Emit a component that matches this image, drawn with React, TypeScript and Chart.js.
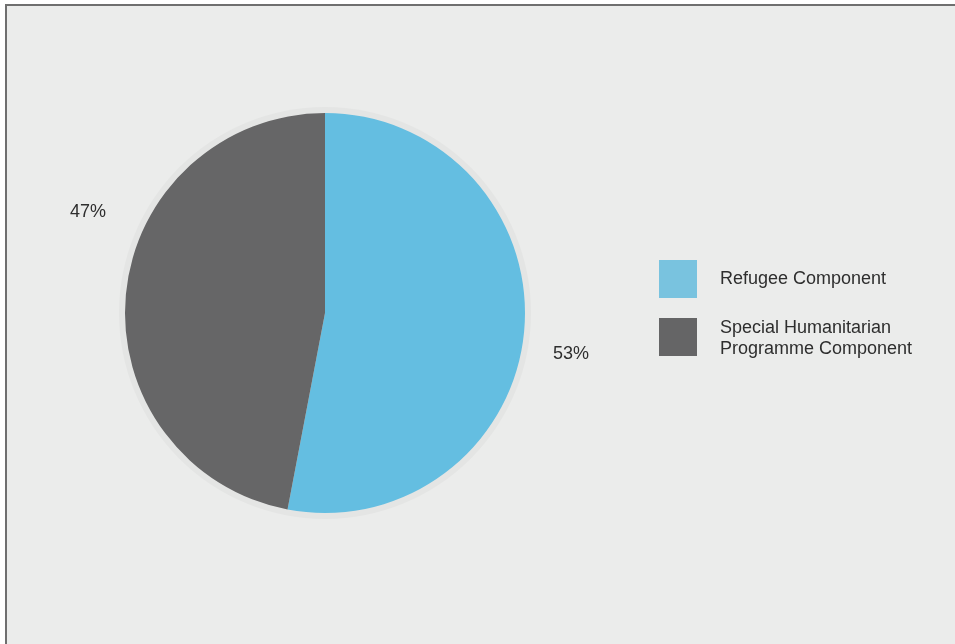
import { useEffect, useRef } from "react";
import { Chart, registerables } from "chart.js";

Chart.register(...registerables);

// ---- data ----
const categories = ["Refugee Component", "Special Humanitarian Programme Component"];
const legendLines = [["Refugee Component"], ["Special Humanitarian", "Programme Component"]];
const shares = [53, 47];
const sliceColors = ["#64bee1", "#666667"];
const legendColors = ["#79c3df", "#656566"];

const FONT = '"Liberation Sans", Arial, Helvetica, sans-serif';
const TEXT_COLOR = "#2e2e2e";

const haloPlugin = {
  id: "halo",
  beforeDatasetsDraw(chart: any) {
    const meta = chart.getDatasetMeta(0);
    const arc = meta.data[0];
    if (!arc) return;
    const { x, y, outerRadius } = arc.getProps(["x", "y", "outerRadius"], true);
    const ctx = chart.ctx;
    ctx.save();
    ctx.beginPath();
    ctx.arc(x, y, outerRadius + 6, 0, Math.PI * 2);
    ctx.fillStyle = "#e4e5e4";
    ctx.fill();
    ctx.restore();
  },
};

const pctLabelPlugin = {
  id: "pctLabels",
  afterDatasetsDraw(chart: any, _args: any, opts: any) {
    const meta = chart.getDatasetMeta(0);
    const data = chart.data.datasets[0].data as number[];
    const total = data.reduce((a, b) => a + b, 0);
    const ctx = chart.ctx;
    ctx.save();
    ctx.font = `18px ${FONT}`;
    ctx.fillStyle = TEXT_COLOR;
    ctx.textAlign = "center";
    ctx.textBaseline = "middle";
    meta.data.forEach((arc: any, i: number) => {
      const { x, y, startAngle, endAngle, outerRadius } = arc.getProps(
        ["x", "y", "startAngle", "endAngle", "outerRadius"],
        true
      );
      const mid = (startAngle + endAngle) / 2 + (opts.angleShift[i] * Math.PI) / 180;
      const d = outerRadius * opts.distance[i];
      const pct = Math.round((data[i] / total) * 100);
      ctx.fillText(`${pct}%`, x + Math.cos(mid) * d, y + Math.sin(mid) * d);
    });
    ctx.restore();
  },
};

const legendPlugin = {
  id: "customLegend",
  afterDraw(chart: any, _args: any, opts: any) {
    const ctx = chart.ctx;
    ctx.save();
    ctx.font = `18px ${FONT}`;
    ctx.textBaseline = "middle";
    ctx.textAlign = "left";
    categories.forEach((_c, i) => {
      const top = opts.top + i * opts.step;
      ctx.fillStyle = legendColors[i];
      ctx.fillRect(opts.left, top, opts.box, opts.box);
      ctx.fillStyle = TEXT_COLOR;
      const lines = legendLines[i];
      lines.forEach((ln, j) => {
        const yy =
          lines.length === 1
            ? top + opts.box / 2
            : top + opts.firstLineOffset + j * opts.lineHeight;
        ctx.fillText(ln, opts.textX, yy);
      });
    });
    ctx.restore();
  },
};

export default function App() {
  const ref = useRef<HTMLCanvasElement | null>(null);

  useEffect(() => {
    if (!ref.current) return;
    const chart = new Chart(ref.current, {
      type: "pie",
      data: {
        labels: categories,
        datasets: [
          {
            data: shares,
            backgroundColor: sliceColors,
            borderWidth: 0,
          },
        ],
      },
      options: {
        responsive: false,
        animation: false,
        devicePixelRatio: 1,
        layout: { padding: { left: 125, right: 430, top: 113, bottom: 131 } },
        plugins: {
          legend: { display: false },
          tooltip: { enabled: false },
          pctLabels: { angleShift: [4, 17.7], distance: [1.247, 1.288] },
          customLegend: {
            left: 659,
            top: 260,
            step: 58,
            box: 38,
            textX: 720,
            firstLineOffset: 10,
            lineHeight: 21,
          },
        } as any,
      },
      plugins: [haloPlugin, pctLabelPlugin, legendPlugin],
    });
    return () => chart.destroy();
  }, []);

  return (
    <div
      style={{
        position: "fixed",
        left: 0,
        top: 0,
        width: 955,
        height: 644,
        background: "#ffffff",
        overflow: "hidden",
      }}
    >
      <div
        style={{
          position: "absolute",
          left: 5,
          top: 4,
          width: 955,
          height: 644,
          background: "#ebeceb",
          borderTop: "2px solid #6f6f6f",
          borderLeft: "2px solid #6f6f6f",
        }}
      />
      <canvas
        ref={ref}
        width={955}
        height={644}
        style={{ position: "absolute", left: 0, top: 0, width: 955, height: 644 }}
      />
    </div>
  );
}
